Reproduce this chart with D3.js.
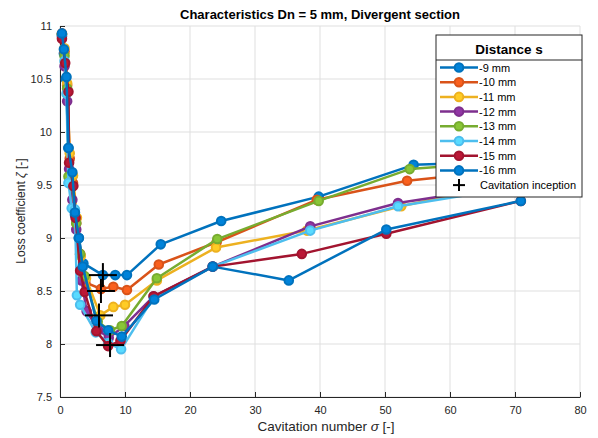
<!DOCTYPE html>
<html>
<head>
<meta charset="utf-8">
<script src="https://cdn.jsdelivr.net/npm/d3@7"></script>
<style>
body { margin: 0; background: #fff; }
svg { font-family: "Liberation Sans", Arial, sans-serif; }
</style>
</head>
<body>
<svg id="chart" width="598" height="438"></svg>
<script>
// data
var seriesNames = ['-9 mm', '-10 mm', '-11 mm', '-12 mm', '-13 mm', '-14 mm', '-15 mm', '-16 mm'];
var seriesColors = ['#0072BD', '#D95319', '#EDB120', '#7E2F8E', '#77AC30', '#4DBEEE', '#A2142F', '#0072BD'];

var x9 = [0.3, 0.6, 0.9, 1.3, 1.8, 2.3, 2.9, 3.6, 6.6, 8.5, 10.3, 15.5, 24.8, 39.8, 54.4, 69];
var y9 = [10.92, 10.74, 10.5, 9.85, 9.6, 9.22, 9.0, 8.76, 8.65, 8.65, 8.65, 8.94, 9.16, 9.39, 9.69, 9.72];
var x10 = [0.3, 0.7, 1.1, 1.5, 2.0, 2.5, 3.1, 3.9, 6.3, 8.2, 10.3, 15.2, 24.1, 39.5, 53.4, 69];
var y10 = [10.93, 10.76, 10.44, 9.75, 9.52, 9.14, 8.85, 8.58, 8.52, 8.54, 8.51, 8.75, 8.96, 9.36, 9.54, 9.64];
var x11 = [0.3, 0.7, 1.1, 1.5, 2.0, 2.6, 3.2, 4.0, 6.2, 8.2, 10.0, 14.9, 24.0, 38.0, 52.5, 69];
var y11 = [10.92, 10.79, 10.46, 9.8, 9.59, 9.19, 8.83, 8.62, 8.27, 8.35, 8.37, 8.6, 8.91, 9.07, 9.3, 9.52];
var x12 = [0.3, 0.7, 1.1, 1.4, 1.9, 2.5, 3.3, 4.1, 5.9, 7.5, 9.9, 14.4, 23.5, 38.5, 52, 69];
var y12 = [10.9, 10.62, 10.29, 9.65, 9.36, 9.08, 8.6, 8.31, 8.13, 8.06, 8.17, 8.45, 8.73, 9.11, 9.33, 9.49];
var x13 = [0.3, 0.7, 1.1, 1.3, 1.9, 2.5, 3.1, 3.8, 5.8, 7.7, 9.5, 14.9, 24.2, 39.8, 53.8, 69];
var y13 = [10.92, 10.72, 10.41, 9.58, 9.49, 9.14, 8.85, 8.64, 8.21, 8.13, 8.17, 8.62, 8.99, 9.35, 9.65, 9.72];
var x14 = [0.3, 0.7, 1.0, 1.3, 1.8, 2.3, 2.6, 3.1, 5.5, 7.4, 9.4, 14.4, 23.5, 38.5, 52, 69];
var y14 = [10.91, 10.67, 10.36, 9.52, 9.28, 9.27, 8.46, 8.37, 8.11, 8.01, 7.95, 8.44, 8.73, 9.07, 9.3, 9.47];
var x15 = [0.3, 0.8, 1.3, 1.4, 2.05, 2.4, 3.1, 3.8, 5.6, 7.4, 9.3, 14.4, 23.5, 37.2, 50.2, 70.9];
var y15 = [10.88, 10.65, 10.38, 9.71, 9.49, 9.19, 8.69, 8.49, 8.12, 7.98, 8.03, 8.45, 8.73, 8.85, 9.04, 9.35];
var x16 = [0.3, 0.6, 1.0, 1.3, 1.9, 2.3, 2.9, 3.5, 5.6, 7.4, 9.5, 14.5, 23.5, 35.2, 50.2, 70.9];
var y16 = [10.93, 10.78, 10.52, 9.85, 9.62, 9.24, 9.0, 8.73, 8.22, 8.13, 8.07, 8.42, 8.73, 8.6, 9.08, 9.35];

var inceptionX = [6.6, 6.3, 6.0, 7.7];
var inceptionY = [8.65, 8.5, 8.27, 7.99];

var xTicks = [0, 10, 20, 30, 40, 50, 60, 70, 80];
var yTicks = [7.5, 8, 8.5, 9, 9.5, 10, 10.5, 11];

var xs = [x9, x10, x11, x12, x13, x14, x15, x16];
var ys = [y9, y10, y11, y12, y13, y14, y15, y16];

var series = seriesNames.map(function(name, i) {
    return {
        name: name,
        color: seriesColors[i],
        points: xs[i].map(function(v, j) { return [v, ys[i][j]]; })
    };
});

var margin = {left: 60, right: 18, top: 26, bottom: 41};
var width = 598, height = 438;

var svg = d3.select('#chart');

var x = d3.scaleLinear().domain([0, 80]).range([margin.left, width - margin.right]);
var y = d3.scaleLinear().domain([7.5, 11]).range([height - margin.bottom, margin.top]);

// grid
svg.append('g')
    .selectAll('line')
    .data(xTicks)
    .enter()
    .append('line')
    .attr('x1', function(d) { return x(d); })
    .attr('x2', function(d) { return x(d); })
    .attr('y1', y(7.5))
    .attr('y2', y(11))
    .attr('stroke', '#dfdfdf')
    .attr('stroke-width', 1);

svg.append('g')
    .selectAll('line')
    .data(yTicks)
    .enter()
    .append('line')
    .attr('x1', x(0))
    .attr('x2', x(80))
    .attr('y1', function(d) { return y(d); })
    .attr('y2', function(d) { return y(d); })
    .attr('stroke', '#dfdfdf')
    .attr('stroke-width', 1);

// axes
var xAxis = svg.append('g')
    .attr('transform', 'translate(0,' + y(7.5) + ')')
    .call(d3.axisBottom(x).tickValues(xTicks).tickSizeInner(-5).tickSizeOuter(0).tickPadding(9));

var yAxis = svg.append('g')
    .attr('transform', 'translate(' + x(0) + ',0)')
    .call(d3.axisLeft(y).tickValues(yTicks).tickSizeInner(-5).tickSizeOuter(0).tickPadding(8)
        .tickFormat(function(d) { return String(d); }));

[xAxis, yAxis].forEach(function(a) {
    a.select('.domain').attr('stroke', '#262626');
    a.selectAll('.tick line').attr('stroke', '#262626');
    a.selectAll('.tick text').attr('fill', '#262626').style('font-size', '11px');
});

// series
var line = d3.line()
    .x(function(d) { return x(d[0]); })
    .y(function(d) { return y(d[1]); });

var groups = svg.append('g')
    .selectAll('g')
    .data(series)
    .enter()
    .append('g');

groups.append('path')
    .attr('d', function(d) { return line(d.points); })
    .attr('fill', 'none')
    .attr('stroke', function(d) { return d.color; })
    .attr('stroke-width', 2.5)
    .attr('stroke-linejoin', 'round');

groups.selectAll('circle')
    .data(function(d) { return d.points.map(function(p) { return {p: p, c: d.color}; }); })
    .enter()
    .append('circle')
    .attr('cx', function(d) { return x(d.p[0]); })
    .attr('cy', function(d) { return y(d.p[1]); })
    .attr('r', 4.3)
    .attr('fill', function(d) { return d3.color(d.c).brighter(0.4); })
    .attr('stroke', function(d) { return d.c; })
    .attr('stroke-width', 2);

// cavitation inception crosses
var crossPts = inceptionX.map(function(v, i) { return [v, inceptionY[i]]; });
var crosses = svg.append('g')
    .selectAll('g')
    .data(crossPts)
    .enter()
    .append('g')
    .attr('transform', function(d) { return 'translate(' + x(d[0]) + ',' + y(d[1]) + ')'; });
crosses.append('line').attr('x1', -14).attr('x2', 14).attr('y1', 0).attr('y2', 0)
    .attr('stroke', '#000').attr('stroke-width', 2);
crosses.append('line').attr('x1', 0).attr('x2', 0).attr('y1', -12).attr('y2', 12)
    .attr('stroke', '#000').attr('stroke-width', 2);

// labels
svg.append('text')
    .attr('x', 320).attr('y', 19)
    .attr('text-anchor', 'middle')
    .style('font-size', '13px').style('font-weight', 'bold')
    .attr('fill', '#000')
    .text('Characteristics Dn = 5 mm, Divergent section');

var xl = svg.append('text')
    .attr('x', 326).attr('y', 431)
    .attr('text-anchor', 'middle')
    .style('font-size', '13.5px')
    .attr('fill', '#262626');
xl.append('tspan').text('Cavitation number ');
xl.append('tspan').style('font-style', 'italic').text('σ');
xl.append('tspan').text(' [-]');

var yl = svg.append('text')
    .attr('transform', 'translate(25,211) rotate(-90)')
    .attr('text-anchor', 'middle')
    .style('font-size', '12px')
    .attr('fill', '#262626');
yl.append('tspan').text('Loss coefficient ');
yl.append('tspan').style('font-style', 'italic').text('ζ');
yl.append('tspan').text(' [-]');

// legend
var lg = svg.append('g').attr('transform', 'translate(436,35)');
lg.append('rect')
    .attr('width', 146).attr('height', 162)
    .attr('fill', '#fff').attr('stroke', '#262626').attr('stroke-width', 1);
lg.append('text')
    .attr('x', 73).attr('y', 19)
    .attr('text-anchor', 'middle')
    .style('font-size', '13.5px').style('font-weight', 'bold')
    .text('Distance s');
lg.append('line')
    .attr('x1', 0).attr('x2', 146).attr('y1', 25).attr('y2', 25)
    .attr('stroke', '#262626');

var items = lg.selectAll('g.item')
    .data(series)
    .enter()
    .append('g')
    .attr('class', 'item')
    .attr('transform', function(d, i) { return 'translate(0,' + (32.5 + i * 14.7) + ')'; });
items.append('line')
    .attr('x1', 4).attr('x2', 42)
    .attr('stroke', function(d) { return d.color; })
    .attr('stroke-width', 2.5);
items.append('circle')
    .attr('cx', 23).attr('r', 4.3)
    .attr('fill', function(d) { return d3.color(d.color).brighter(0.4); })
    .attr('stroke', function(d) { return d.color; })
    .attr('stroke-width', 2);
items.append('text')
    .attr('x', 43).attr('y', 4)
    .style('font-size', '11px')
    .attr('fill', '#000')
    .text(function(d) { return d.name; });

var ci = lg.append('g').attr('transform', 'translate(0,' + (32.5 + 8 * 14.7) + ')');
ci.append('line').attr('x1', 17).attr('x2', 29).attr('stroke', '#000').attr('stroke-width', 2);
ci.append('line').attr('x1', 23).attr('x2', 23).attr('y1', -6).attr('y2', 6).attr('stroke', '#000').attr('stroke-width', 2);
ci.append('text').attr('x', 44).attr('y', 4).style('font-size', '11px').attr('fill', '#000').text('Cavitation inception');
</script>
</body>
</html>
